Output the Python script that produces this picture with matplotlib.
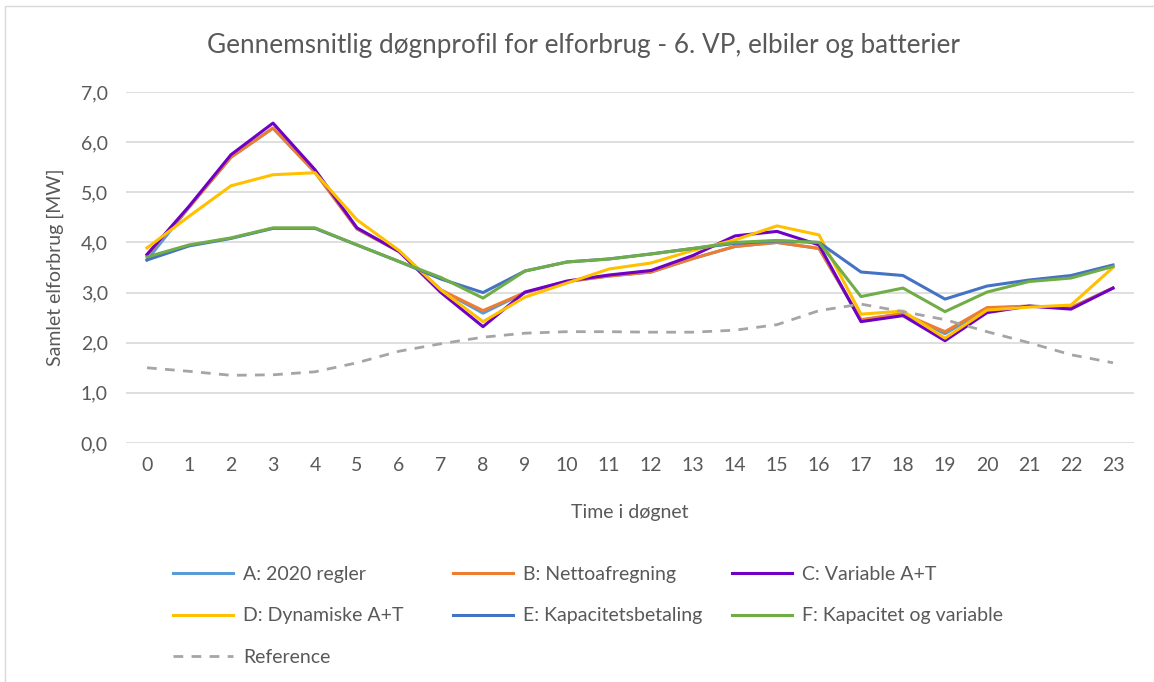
import matplotlib.pyplot as plt
from matplotlib.patches import Rectangle

plt.rcParams['font.family'] = ['Lato', 'DejaVu Sans']

hours = list(range(24))

a_2020 = [3.65, 4.70, 5.70, 6.28, 5.40, 4.27, 3.82, 3.05, 2.59, 3.00, 3.22, 3.33, 3.41, 3.68,
          3.92, 4.00, 3.88, 2.45, 2.58, 2.18, 2.68, 2.73, 2.70, 3.09]
b_netto = [3.75, 4.70, 5.70, 6.28, 5.40, 4.27, 3.82, 3.05, 2.64, 3.00, 3.22, 3.33, 3.41, 3.68,
           3.92, 4.00, 3.88, 2.46, 2.58, 2.22, 2.70, 2.73, 2.70, 3.09]
c_variable = [3.76, 4.72, 5.75, 6.38, 5.45, 4.29, 3.82, 3.00, 2.32, 3.01, 3.23, 3.35, 3.44, 3.74,
              4.13, 4.22, 3.95, 2.42, 2.54, 2.04, 2.60, 2.73, 2.67, 3.09]
d_dynamisk = [3.89, 4.52, 5.13, 5.35, 5.39, 4.45, 3.84, 3.05, 2.42, 2.91, 3.19, 3.47, 3.59, 3.84,
              4.05, 4.33, 4.15, 2.57, 2.63, 2.09, 2.65, 2.71, 2.75, 3.50]
e_kapacitet = [3.65, 3.93, 4.08, 4.28, 4.28, 3.95, 3.62, 3.27, 3.00, 3.43, 3.61, 3.67, 3.77, 3.88,
               3.98, 4.03, 4.00, 3.41, 3.34, 2.87, 3.13, 3.25, 3.34, 3.55]
f_kap_var = [3.71, 3.95, 4.09, 4.29, 4.29, 3.95, 3.62, 3.30, 2.89, 3.43, 3.61, 3.67, 3.77, 3.88,
             4.00, 4.04, 4.00, 2.92, 3.09, 2.62, 3.01, 3.22, 3.29, 3.52]
reference = [1.50, 1.43, 1.35, 1.36, 1.42, 1.60, 1.83, 1.98, 2.11, 2.19, 2.22, 2.22, 2.21, 2.21,
             2.25, 2.36, 2.64, 2.77, 2.62, 2.46, 2.22, 2.00, 1.76, 1.60]

W, H = 1154, 682
fig = plt.figure(figsize=(W / 100, H / 100), dpi=100)
ax = fig.add_axes([126 / W, 1 - 443 / H, (1134 - 126) / W, (443 - 92) / H])

series = [
    ("A: 2020 regler", a_2020, "#5B9BD5"),
    ("B: Nettoafregning", b_netto, "#ED7D31"),
    ("C: Variable A+T", c_variable, "#6F00C6"),
    ("D: Dynamiske A+T", d_dynamisk, "#FFC000"),
    ("E: Kapacitetsbetaling", e_kapacitet, "#4472C4"),
    ("F: Kapacitet og variable", f_kap_var, "#70AD47"),
]
handles = {}
for name, vals, col in series:
    h, = ax.plot(hours, vals, color=col, lw=2.2)
    handles[name] = h
h, = ax.plot(hours, reference, color="#A5A5A5", lw=2.0, ls=(0, (3.5, 3)))
handles["Reference"] = h

ax.set_xlim(-0.5, 23.5)
ax.set_ylim(0, 7)
ax.set_xticks(hours)
ax.set_yticks(range(8))
ax.set_yticklabels([f"{v},0" for v in range(8)])
ax.tick_params(length=0, labelsize=14, colors="#595959")
ax.tick_params(axis='x', pad=10)
ax.tick_params(axis='y', pad=13)
for s in ax.spines.values():
    s.set_visible(False)
ax.yaxis.grid(True, color="#D9D9D9", lw=1.2)
ax.set_axisbelow(True)

ax.set_xlabel("Time i døgnet", fontsize=14, color="#595959", labelpad=22)
ax.set_ylabel("Samlet elforbrug [MW]", fontsize=14, color="#595959", labelpad=12)
fig.text(584 / W, 1 - 46 / H, "Gennemsnitlig døgnprofil for elforbrug - 6. VP, elbiler og batterier",
         ha='center', va='center', fontsize=18.8, color="#595959")

columns = [
    (173, ["A: 2020 regler", "D: Dynamiske A+T", "Reference"]),
    (453, ["B: Nettoafregning", "E: Kapacitetsbetaling"]),
    (732, ["C: Variable A+T", "F: Kapacitet og variable"]),
]
for x0, names in columns:
    fig.legend([handles[n] for n in names], names, loc='upper left',
               bbox_to_anchor=(x0 / W, 1 - 566 / H), frameon=False, fontsize=14,
               labelcolor="#595959", handlelength=3.1, handletextpad=0.5,
               labelspacing=1.25, borderpad=0, borderaxespad=0)

fig.add_artist(Rectangle((5 / W, -0.05), 1.1, 1 - 6 / H + 0.05, transform=fig.transFigure,
                         fill=False, edgecolor="#D9D9D9", lw=1.0))

fig.savefig("out.png", dpi=100)
